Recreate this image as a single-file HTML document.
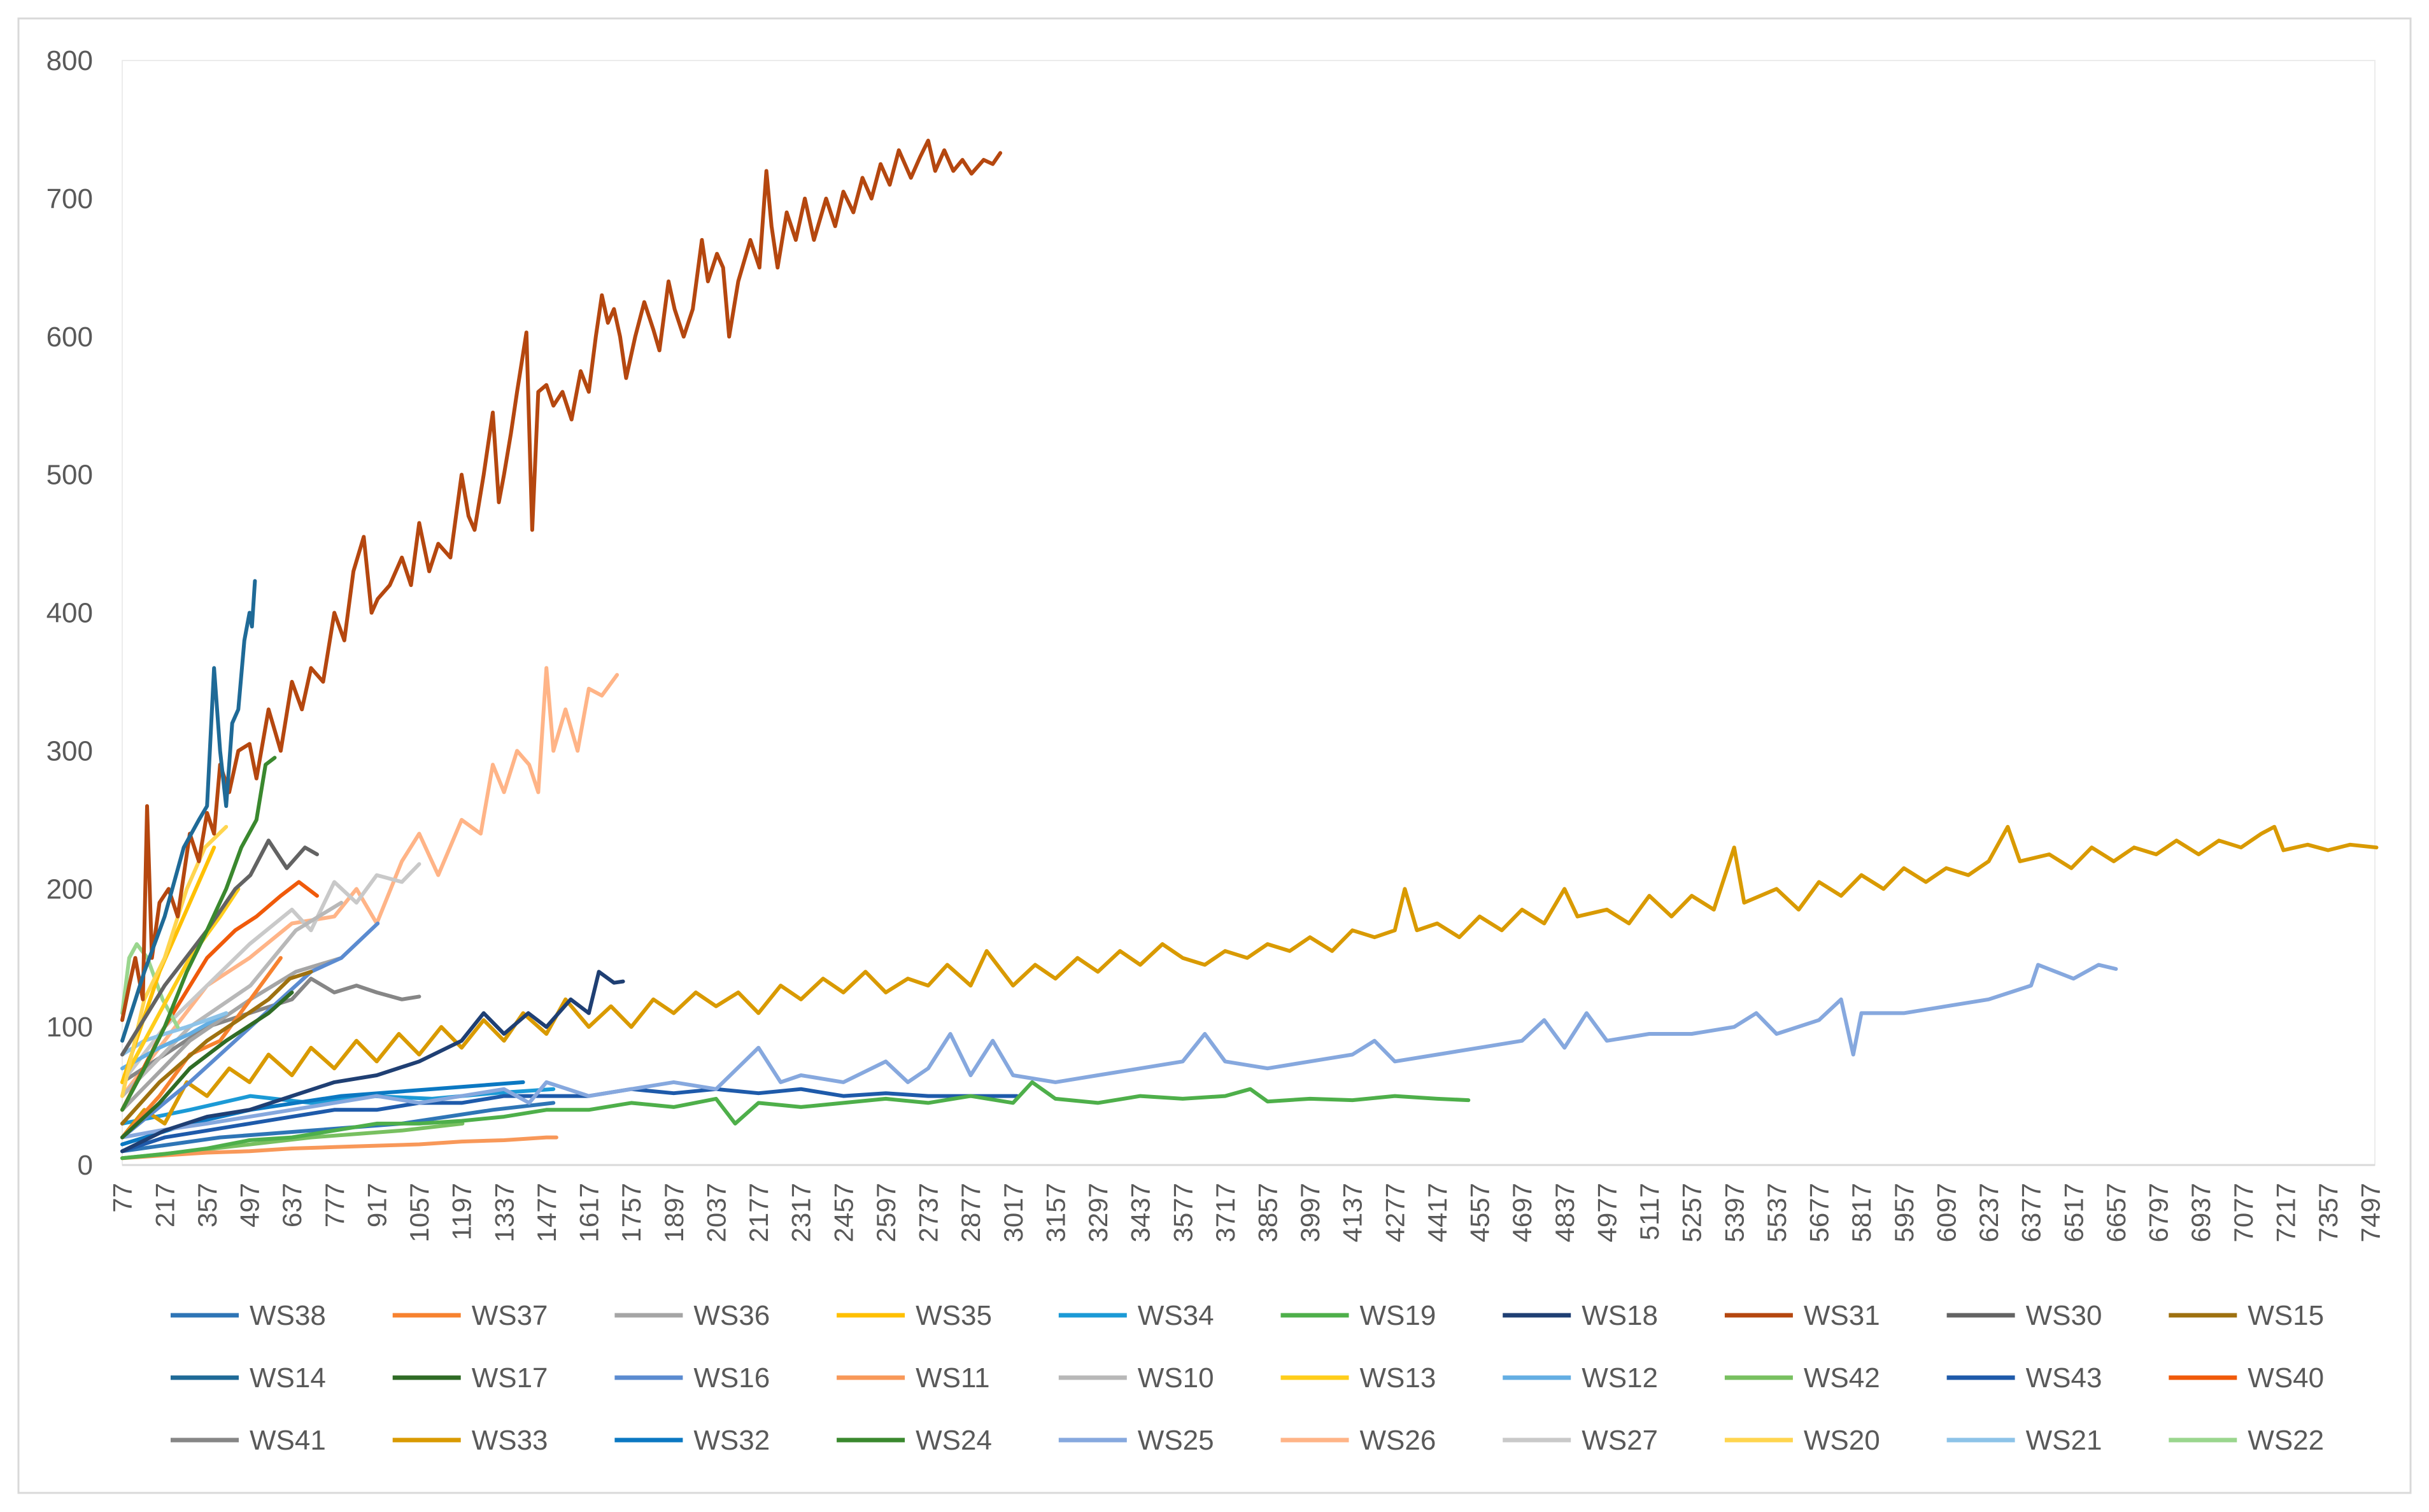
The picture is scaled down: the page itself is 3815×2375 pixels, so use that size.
<!DOCTYPE html>
<html><head><meta charset="utf-8">
<style>
html,body{margin:0;padding:0;background:#fff;}
svg{display:block;font-family:"Liberation Sans",sans-serif;}
</style></head>
<body>
<svg id="chart" width="3815" height="2375" viewBox="0 0 3815 2375" xmlns="http://www.w3.org/2000/svg">
<rect x="29" y="29" width="3757" height="2316" fill="#fff" stroke="#d9d9d9" stroke-width="3"/>
<rect x="192" y="95" width="3538" height="1735" fill="none" stroke="#ececec" stroke-width="2"/>
<g id="yaxis"></g>
<g id="xaxis"></g>
<g id="series"></g>
<g id="legend"></g>
</svg>
<script>
const yTicks=[0,100,200,300,400,500,600,700,800];
const xTickStart=77, xTickStep=140, xTickCount=54;
const legendNames=["WS38","WS37","WS36","WS35","WS34","WS19","WS18","WS31","WS30","WS15","WS14","WS17","WS16","WS11","WS10","WS13","WS12","WS42","WS43","WS40","WS41","WS33","WS32","WS24","WS25","WS26","WS27","WS20","WS21","WS22"];
const legendColors=["#2E75B6","#F7822F","#A5A5A5","#FFC000","#1B9AD6","#4EAF4A","#1F3F73","#B5470F","#636363","#9E7110","#1F6A97","#2F6B25","#5B8BD0","#F89859","#B8B8B8","#FFCD1A","#64AEE3","#78C060","#1E5AAA","#F05A0A","#868686","#D99A00","#0B78C2","#3A882E","#86A8DE","#FFB487","#C9C9C9","#FFD54F","#8DC3E8","#9AD68E"];

// series data: [x, value] pairs
const WS31=[[77,105],[100,130],[120,150],[145,120],[159,260],[175,150],[200,190],[230,200],[260,180],[300,240],[330,220],[357,255],[380,240],[400,290],[430,270],[460,300],[497,305],[520,280],[560,330],[600,300],[637,350],[670,330],[700,360],[740,350],[777,400],[810,380],[840,430],[874,455],[900,400],[920,410],[960,420],[1000,440],[1030,420],[1057,465],[1090,430],[1120,450],[1160,440],[1197,500],[1220,470],[1240,460],[1270,500],[1300,545],[1320,480],[1337,500],[1360,530],[1380,560],[1411,603],[1430,460],[1450,560],[1477,565],[1500,550],[1530,560],[1560,540],[1590,575],[1617,560],[1640,600],[1660,630],[1680,610],[1700,620],[1720,600],[1740,570],[1770,600],[1800,625],[1830,605],[1850,590],[1880,640],[1900,620],[1930,600],[1960,620],[1990,670],[2010,640],[2040,660],[2060,650],[2080,600],[2110,640],[2150,670],[2180,650],[2203,720],[2220,680],[2240,650],[2270,690],[2300,670],[2330,700],[2360,670],[2400,700],[2430,680],[2457,705],[2490,690],[2520,715],[2550,700],[2580,725],[2610,710],[2640,735],[2680,715],[2710,730],[2737,742],[2760,720],[2790,735],[2820,720],[2850,728],[2880,718],[2920,728],[2950,725],[2975,733]];
const WS33=[[77,20],[150,40],[217,30],[290,60],[357,50],[430,70],[497,60],[560,80],[637,65],[700,85],[777,70],[850,90],[917,75],[990,95],[1057,80],[1130,100],[1197,85],[1270,105],[1337,90],[1400,110],[1477,95],[1540,120],[1617,100],[1690,115],[1757,100],[1830,120],[1897,110],[1970,125],[2037,115],[2110,125],[2177,110],[2250,130],[2317,120],[2390,135],[2457,125],[2530,140],[2597,125],[2670,135],[2737,130],[2800,145],[2877,130],[2930,155],[3017,130],[3090,145],[3157,135],[3230,150],[3297,140],[3370,155],[3437,145],[3510,160],[3577,150],[3650,145],[3717,155],[3790,150],[3857,160],[3930,155],[3997,165],[4070,155],[4137,170],[4210,165],[4277,170],[4310,200],[4350,170],[4417,175],[4490,165],[4557,180],[4630,170],[4697,185],[4770,175],[4837,200],[4880,180],[4977,185],[5050,175],[5117,195],[5190,180],[5257,195],[5330,185],[5397,230],[5430,190],[5537,200],[5610,185],[5677,205],[5750,195],[5817,210],[5890,200],[5957,215],[6030,205],[6097,215],[6170,210],[6237,220],[6300,245],[6340,220],[6437,225],[6510,215],[6577,230],[6650,220],[6717,230],[6790,225],[6857,235],[6930,225],[6997,235],[7070,230],[7137,240],[7180,245],[7210,228],[7290,232],[7357,228],[7430,232],[7517,230]];
const WS25=[[77,20],[200,25],[357,30],[497,35],[637,40],[777,45],[917,50],[1057,45],[1197,50],[1337,55],[1420,45],[1477,60],[1617,50],[1757,55],[1897,60],[2037,55],[2177,85],[2250,60],[2317,65],[2457,60],[2597,75],[2670,60],[2737,70],[2810,95],[2877,65],[2950,90],[3017,65],[3157,60],[3297,65],[3437,70],[3577,75],[3650,95],[3717,75],[3857,70],[3997,75],[4137,80],[4210,90],[4277,75],[4417,80],[4557,85],[4697,90],[4770,105],[4837,85],[4910,110],[4977,90],[5117,95],[5257,95],[5397,100],[5470,110],[5537,95],[5677,105],[5750,120],[5790,80],[5817,110],[5957,110],[6097,115],[6237,120],[6377,130],[6400,145],[6517,135],[6600,145],[6657,142]];
const WS19=[[77,5],[217,8],[357,12],[497,18],[637,20],[777,25],[917,30],[1057,30],[1197,32],[1337,35],[1477,40],[1617,40],[1757,45],[1897,42],[2037,48],[2100,30],[2177,45],[2317,42],[2457,45],[2597,48],[2737,45],[2877,50],[3017,45],[3080,60],[3157,48],[3297,45],[3437,50],[3577,48],[3717,50],[3800,55],[3857,46],[3997,48],[4137,47],[4277,50],[4417,48],[4520,47]];
const WS43=[[77,10],[217,20],[357,25],[497,30],[637,35],[777,40],[917,40],[1057,45],[1197,45],[1337,50],[1477,50],[1617,50],[1757,55],[1897,52],[2037,55],[2177,52],[2317,55],[2457,50],[2597,52],[2737,50],[2877,50],[3030,50]];
const WS18=[[77,10],[217,25],[357,35],[497,40],[637,50],[777,60],[917,65],[1057,75],[1197,90],[1270,110],[1337,95],[1417,110],[1477,100],[1557,120],[1617,110],[1650,140],[1700,132],[1730,133]];
const WS11=[[77,5],[217,7],[357,9],[497,10],[637,12],[777,13],[917,14],[1057,15],[1197,17],[1337,18],[1477,20],[1510,20]];
const WS26=[[77,50],[217,90],[357,130],[497,150],[637,175],[777,180],[850,200],[917,175],[1000,220],[1057,240],[1120,210],[1197,250],[1260,240],[1300,290],[1337,270],[1380,300],[1420,290],[1450,270],[1477,360],[1500,300],[1540,330],[1580,300],[1617,345],[1660,340],[1710,355]];
const WS14=[[77,90],[150,140],[217,180],[280,230],[330,250],[357,260],[380,360],[400,300],[420,260],[440,320],[460,330],[480,380],[497,400],[505,390],[515,423]];
const WS24=[[77,40],[150,70],[217,100],[290,140],[357,170],[420,200],[470,230],[520,250],[550,290],[580,295]];
const WS41=[[77,60],[217,80],[357,100],[497,110],[637,120],[700,135],[777,125],[850,130],[917,125],[1000,120],[1057,122]];
const WS30=[[77,80],[217,130],[357,170],[450,200],[500,210],[560,235],[620,215],[680,230],[720,225]];
const WS27=[[77,60],[217,100],[357,130],[497,160],[637,185],[700,170],[777,205],[850,190],[917,210],[1000,205],[1057,218]];
const WS40=[[77,40],[217,100],[357,150],[450,170],[520,180],[600,195],[660,205],[720,195]];
const WS20=[[77,50],[150,120],[217,150],[290,200],[350,230],[420,245]];
const WS21=[[77,80],[150,90],[217,95],[290,100],[357,105],[420,110]];
const WS22=[[77,110],[100,150],[125,160],[160,150],[210,120],[260,100]];
const WS34=[[77,30],[300,40],[500,50],[700,45],[900,50],[1100,48],[1300,52],[1500,55]];
const WS16=[[77,20],[300,60],[500,100],[700,140],[800,150],[920,175]];
const WS38=[[77,10],[400,20],[700,25],[1000,30],[1300,40],[1500,45]];
const WS10=[[77,50],[300,100],[500,130],[650,170],[800,190]];
const WS13=[[77,60],[200,110],[300,150],[400,180],[460,200]];
const WS17=[[77,20],[200,45],[300,70],[420,90],[560,110],[637,125]];
const WS42=[[77,5],[300,10],[500,15],[700,20],[1000,25],[1200,30]];
const WS36=[[77,40],[300,90],[500,120],[650,140],[800,150]];
const WS37=[[77,20],[200,50],[300,80],[400,90],[500,120],[600,150]];
const WS15=[[77,30],[200,60],[357,90],[460,105],[560,120],[630,135],[700,140]];
const WS12=[[77,70],[200,85],[300,95],[420,110]];
const WS35=[[77,60],[200,140],[300,190],[380,230]];
const WS32=[[77,15],[300,30],[500,40],[800,50],[1100,55],[1400,60]];

const seriesOrder=[["WS42",WS42],["WS11",WS11],["WS38",WS38],["WS34",WS34],["WS32",WS32],["WS43",WS43],["WS19",WS19],["WS25",WS25],["WS33",WS33],["WS18",WS18],["WS26",WS26],["WS41",WS41],["WS27",WS27],["WS10",WS10],["WS36",WS36],["WS37",WS37],["WS40",WS40],["WS16",WS16],["WS15",WS15],["WS17",WS17],["WS12",WS12],["WS21",WS21],["WS22",WS22],["WS13",WS13],["WS35",WS35],["WS20",WS20],["WS30",WS30],["WS24",WS24],["WS31",WS31],["WS14",WS14]];

const NS="http://www.w3.org/2000/svg";
const X0=192, X1=3723, Y0=1830, Y1=95;
function xs(v){return X0+(v-77)/(7497-77)*(X1-X0);}
function ys(v){return Y0-v/800*(Y0-Y1);}
function mk(tag,attrs,parent){const e=document.createElementNS(NS,tag);for(const k in attrs)e.setAttribute(k,attrs[k]);parent.appendChild(e);return e;}

const yg=document.getElementById('yaxis');
yTicks.forEach(t=>{
  const e=mk('text',{x:146,y:ys(t)+15,'text-anchor':'end','font-size':44,fill:'#595959'},yg);
  
  
  e.textContent=t;
});
const xg=document.getElementById('xaxis');
const axl=mk('line',{x1:X0,y1:Y0,x2:3730,y2:Y0,stroke:'#d9d9d9','stroke-width':3},xg);


for(let i=0;i<xTickCount;i++){
  const v=xTickStart+i*xTickStep, px=xs(v);
  const e=mk('text',{x:px,y:1858,'text-anchor':'end','font-size':42,fill:'#595959',transform:`rotate(-90 ${px} 1858)`,dy:'0.35em'},xg);
  
  
  e.textContent=v;
}
const sg=document.getElementById('series');
seriesOrder.forEach(([name,data])=>{
  const col=legendColors[legendNames.indexOf(name)];
  const d=data.map((p,i)=>(i?'L':'M')+xs(p[0]).toFixed(1)+' '+ys(p[1]).toFixed(1)).join(' ');
  const e=mk('path',{d:d,fill:'none',stroke:col,'stroke-width':6,'stroke-linejoin':'round','stroke-linecap':'round'},sg);
  
  
});
const lg=document.getElementById('legend');
legendNames.forEach((n,i)=>{
  const r=Math.floor(i/10), c=i%10;
  const x=268+c*348.7, y=2066+r*98;
  const g=mk('g',{},lg);
  
  
  mk('line',{x1:x,y1:y,x2:x+107,y2:y,stroke:legendColors[i],'stroke-width':7},g);
  const t=mk('text',{x:x+124,y:y+15,'font-size':44,fill:'#595959'},g);
  t.textContent=n;
});
</script>
</body></html>
